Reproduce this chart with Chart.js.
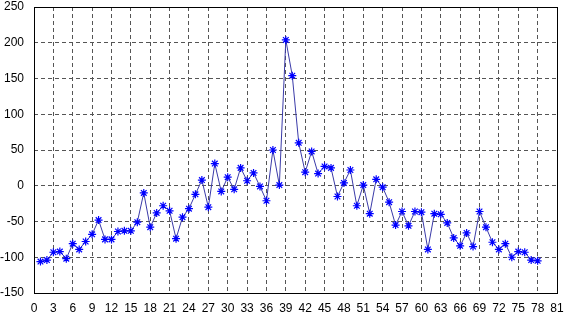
<!DOCTYPE html>
<html>
<head>
<meta charset="utf-8">
<script src="https://cdn.jsdelivr.net/npm/chart.js@4"></script>
<style>
  body { margin: 0; background: #fff; }
</style>
</head>
<body>
<canvas id="chart" width="565" height="316"></canvas>
<script>
const xValues = [];
for (let i = 1; i <= 78; i++) xValues.push(i);

const yValues = [
  -106, -104, -93, -92, -102, -81, -89, -78, -68, -48,
  -75, -75, -64, -63, -63, -51, -10, -58, -38, -28,
  -35, -74, -44, -32, -12, 8, -30, 31, -8, 12,
  -5, 25, 7, 18, -1, -21, 50, 1, 204, 154,
  60, 19, 48, 17, 27, 25, -15, 4, 22, -28,
  1, -39, 9, -2, -23, -55, -36, -56, -36, -37,
  -89, -39, -40, -52, -73, -84, -66, -85, -36, -58,
  -79, -89, -81, -100, -92, -93, -104, -105
];

const X_MIN = 0, X_MAX = 81, X_STEP = 3;
const Y_MIN = -150, Y_MAX = 250, Y_STEP = 50;

const points = xValues.map((x, i) => ({x: x, y: yValues[i]}));

// black box around the plot area
const boxPlugin = {
  id: 'box',
  afterDraw(chart) {
    const {ctx, chartArea: a} = chart;
    ctx.save();
    ctx.strokeStyle = '#000';
    ctx.lineWidth = 1;
    ctx.strokeRect(Math.round(a.left) + 0.5, Math.round(a.top) + 0.5,
      Math.round(a.right - a.left), Math.round(a.bottom - a.top));
    ctx.restore();
  }
};

const tickFont = {family: 'Liberation Sans, Arial, sans-serif', size: 12};

new Chart(document.getElementById('chart'), {
  type: 'line',
  data: {
    datasets: [{
      data: points,
      borderColor: '#3a3aa8',
      borderWidth: 1,
      pointStyle: 'star',
      pointRadius: 4,
      pointBorderColor: '#0000ff',
      pointBackgroundColor: '#0000ff',
      pointBorderWidth: 1.2,
      tension: 0,
      fill: false
    }]
  },
  options: {
    responsive: false,
    animation: false,
    events: [],
    layout: {padding: {left: 0, right: 8, top: 7, bottom: 0}},
    plugins: {legend: {display: false}, tooltip: {enabled: false}},
    scales: {
      x: {
        type: 'linear',
        min: X_MIN,
        max: X_MAX,
        ticks: {stepSize: X_STEP, color: '#000', font: tickFont, padding: 8, maxRotation: 0, autoSkip: false},
        grid: {color: '#555', drawTicks: false},
        border: {display: false, dash: [4, 3]},
        afterFit(scale) { scale.height = 23; scale.paddingRight = 0; scale.paddingLeft = 0; }
      },
      y: {
        min: Y_MIN,
        max: Y_MAX,
        ticks: {stepSize: Y_STEP, color: '#000', font: tickFont, padding: 10},
        grid: {color: '#555', drawTicks: false},
        border: {display: false, dash: [4, 3]},
        afterFit(scale) { scale.width = 34; scale.paddingTop = 0; scale.paddingBottom = 0; }
      }
    }
  },
  plugins: [boxPlugin]
});
</script>
</body>
</html>
